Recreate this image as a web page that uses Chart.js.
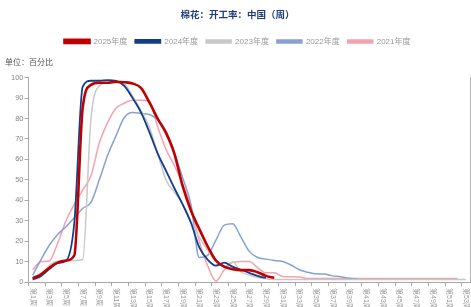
<!DOCTYPE html>
<html><head><meta charset="utf-8">
<script src="https://cdn.jsdelivr.net/npm/chart.js@4.4.1/dist/chart.umd.min.js"></script>
<style>html,body{margin:0;padding:0;background:#fff}#wrap{width:471px;height:307px;position:relative}</style>
</head><body><div id="wrap"><canvas id="c"></canvas></div>
<script>
const weeks = ['第1周','第2周','第3周','第4周','第5周','第6周','第7周','第8周','第9周','第10周',
  '第11周','第12周','第13周','第14周','第15周','第16周','第17周','第18周','第19周','第20周',
  '第21周','第22周','第23周','第24周','第25周','第26周','第27周','第28周','第29周','第30周',
  '第31周','第32周','第33周','第34周','第35周','第36周','第37周','第38周','第39周','第40周',
  '第41周','第42周','第43周','第44周','第45周','第46周','第47周','第48周','第49周','第50周',
  '第51周','第52周','第53周'];
const seriesNames = ['2025年度','2024年度','2023年度','2022年度','2021年度'];
const s2025 = [1.8,3.8,7,9.5,10.5,13,85,96.5,97.5,97.5,98,97.8,97.2,95,88,80,73,63,47,35,
  26,17.5,10.5,7.5,6.3,5.8,5.8,4.8,3,2];
const s2024 = [1.3,3,6.3,9.3,10.3,29,95.5,98.5,98.5,98.8,98.5,96,90,83,73.5,63,54.5,46,38,29,
  17,11,8,9.5,7.5,6,4.5,3,2];
const s2023 = [1,2.5,8,10.3,10.5,10.5,11,80,96,97.5,97.5,97,91,84,76,63,50,44,38.4,29.5,
  22,15.6,9.9,7.5,9.9,5,3.4,2.2,1.6,1.2,1.2,1.2,1.2,1.2,1.2,1.2,1.2,1.2,1.2,1.2,
  1.2,1.2,1.2,1.2,1.2,1.2,1.2,1.2,1.2,1.2,1.2,1.2,1.2];
const s2022 = [3.3,11,18,23.3,27,31.5,36,39,50,62,71.5,80.5,83,82.5,82,79.5,74,63.5,51,38,
  12,13,20.5,27.8,28.5,22,15,12,11.2,10.5,10,8.3,6,4.8,4,3.9,3,2.6,1.8,1.6];
const s2021 = [6,10,10.3,19,30,38,45,52,68,78,85,87.5,89,89,88.5,76,65,57,48,37,
  20,8,0.5,6,9.6,10,10,7,4.5,4.5,2.7,2.6,2.5,1.7,1.7,1.7,1.7,1.7,1.7,1.7,
  1.7,1.7,1.7,1.7,1.7,1.7,1.7,1.7,1.7,1.7,1.7,1.7];
const yTicks = [0,10,20,30,40,50,60,70,80,90,100];
const titleText = '棉花：开工率：中国（周）';
const unitText = '单位：百分比';

const colors = ['#c00000','#123d8a','#c8c8c8','#86a2d4','#f4a2ac'];
const widths = [2.6,1.8,1.5,1.5,1.5];
const FONT = '"Liberation Sans", "Noto Sans CJK SC", sans-serif';

const extras = {
  id: 'extras',
  afterDraw(chart) {
    const ctx = chart.ctx, xs = chart.scales.x, a = chart.chartArea;
    ctx.save();
    ctx.font = '7px ' + FONT;
    ctx.fillStyle = '#9a9a9a';
    ctx.textAlign = 'left';
    ctx.textBaseline = 'middle';
    for (let i = 0; i < weeks.length; i += 2) {
      const x = xs.getPixelForValue(i);
      ctx.save();
      ctx.translate(x, a.bottom + 6);
      ctx.rotate(Math.PI / 2);
      ctx.fillText(weeks[i], 0, 0);
      ctx.restore();
    }
    const rx = Math.round(a.right) + 0.5;
    ctx.strokeStyle = '#b4b4b4';
    ctx.lineWidth = 1;
    ctx.beginPath(); ctx.moveTo(rx, a.top); ctx.lineTo(rx, a.bottom); ctx.stroke();
    ctx.restore();
  }
};

const allSeries = [s2025, s2024, s2023, s2022, s2021];
new Chart(document.getElementById('c'), {
  type: 'line',
  data: {
    labels: weeks,
    datasets: allSeries.map((d, i) => ({
      label: seriesNames[i], data: d,
      borderColor: colors[i], backgroundColor: colors[i],
      borderWidth: widths[i], pointRadius: 0,
      cubicInterpolationMode: 'monotone', fill: false
    }))
  },
  options: {
    responsive: true, maintainAspectRatio: false, animation: false,
    layout: { padding: { left: 5, right: 1, top: 0, bottom: 21 } },
    plugins: {
      title: { display: true, text: titleText, color: '#1f3d7a',
        font: { family: FONT, size: 9.5, weight: 'bold' }, padding: { top: 10, bottom: 8 } },
      subtitle: { display: true, text: unitText, align: 'start', color: '#555', weight: 500,
        font: { family: FONT, size: 8 }, padding: { top: 3, bottom: 9.7 } },
      legend: { display: true, position: 'top',
        labels: { boxWidth: 25, boxHeight: 3, color: '#999', padding: 8,
          font: { family: FONT, size: 8 } } },
      tooltip: { enabled: false }
    },
    scales: {
      x: {
        type: 'category', offset: true,
        grid: { offset: true, drawOnChartArea: false, drawTicks: true, tickLength: 4,
          color: (c) => (c.index % 2 === 0 ? '#a8a8a8' : 'rgba(0,0,0,0)') },
        border: { color: '#a8a8a8' },
        ticks: { display: false }
      },
      y: {
        min: 0, max: 100,
        afterFit: (s) => { s.width = 23.5; },
        afterBuildTicks: (s) => { s.ticks = yTicks.map(v => ({ value: v })); },
        grid: { drawOnChartArea: false, tickLength: 4, color: '#a8a8a8' },
        border: { color: '#a8a8a8' },
        ticks: { color: '#888', padding: 1, font: { family: FONT, size: 7.5 } }
      }
    }
  },
  plugins: [extras]
});
</script></body></html>
